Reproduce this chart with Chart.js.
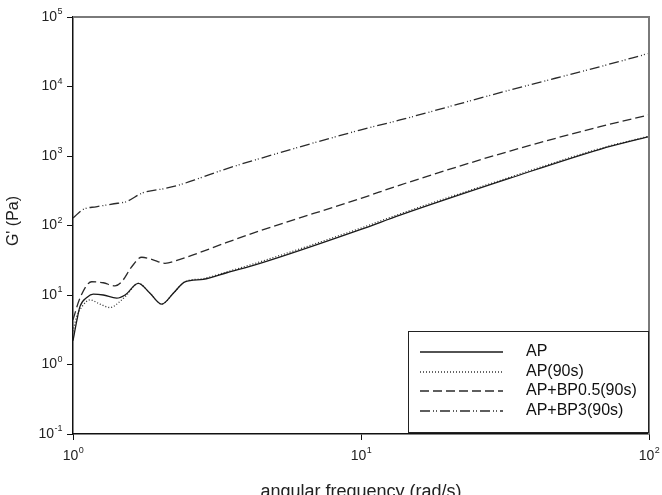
<!DOCTYPE html>
<html lang="en">
<head>
<meta charset="UTF-8">
<title>G' vs angular frequency</title>
<script src="https://cdn.jsdelivr.net/npm/chart.js"></script>
<style>
  html, body { margin: 0; padding: 0; background: #fff; }
</style>
</head>
<body>
<canvas id="chart" width="662" height="495"></canvas>
<script>
// values (x in rad/s, y in Pa)
const apX   = [1.0, 1.03, 1.057, 1.12, 1.176, 1.274, 1.418, 1.516, 1.686, 1.851, 2.032, 2.23, 2.448, 2.835, 3.418, 4.46, 10, 13.66, 32.9, 67.6, 100];
const apY   = [2.2, 4.2, 6.8, 9.3, 10.3, 10.0, 9.0, 10.0, 14.7, 10.6, 7.4, 10.6, 15.5, 16.8, 20.9, 28.5, 88, 141, 480, 1250, 1900];

const ap90X = [1.0, 1.03, 1.08, 1.146, 1.241, 1.344, 1.476, 1.536, 1.686, 1.851, 2.032, 2.23, 2.448, 2.835, 3.418, 4.46, 10, 13.66, 32.9, 67.6, 100];
const ap90Y = [3.0, 4.9, 7.0, 8.5, 7.4, 6.6, 8.5, 10.0, 14.7, 10.6, 7.4, 10.6, 15.5, 17.2, 21.5, 30, 92, 147, 495, 1280, 1930];

const bp05X = [1.0, 1.057, 1.161, 1.274, 1.399, 1.476, 1.599, 1.732, 1.876, 2.086, 2.353, 3.4, 4.46, 10, 13.66, 32.9, 67.6, 100];
const bp05Y = [4.4, 9.0, 15.5, 15.0, 13.5, 15.5, 25.5, 34.9, 32.6, 28.6, 32.6, 56.5, 84, 246, 382, 1180, 2640, 3900];

const bp3X  = [1.0, 1.086, 1.202, 1.43, 1.53, 1.746, 2.103, 2.339, 2.745, 3.31, 4.46, 9.92, 13.66, 32.9, 67.6, 100];
const bp3Y  = [128, 171, 186, 209, 220, 295, 343, 383, 478, 629, 920, 2360, 3300, 8900, 19300, 30000];

const seriesLabels = ['AP', 'AP(90s)', 'AP+BP0.5(90s)', 'AP+BP3(90s)'];
const xTickExp = [0, 1, 2];
const yTickExp = [-1, 0, 1, 2, 3, 4, 5];
const xTitle = 'angular frequency (rad/s)';
const yTitle = "G' (Pa)";

const FONT = '"Liberation Sans", Arial, sans-serif';
const toPts = (xs, ys) => xs.map((x, i) => ({ x: x, y: ys[i] }));

function lineSet(label, xs, ys, dash, color) {
  return {
    label: label,
    data: toPts(xs, ys),
    borderColor: color,
    borderWidth: 1.3,
    borderDash: dash,
    pointRadius: 0,
    fill: false,
    cubicInterpolationMode: 'monotone'
  };
}

const dashes = [[], [1, 2], [9, 4], [10, 3, 1, 2, 1, 3]];
const colors = ['#1a1a1a', '#333', '#2a2a2a', '#2a2a2a'];

// superscript "10^e" label
function drawPow(ctx, e, x, y, align) {
  ctx.save();
  const base = '10', sup = e < 0 ? '-' + Math.abs(e) : String(e);
  ctx.font = '14px ' + FONT;
  const wb = ctx.measureText(base).width;
  ctx.font = '9px ' + FONT;
  const ws = ctx.measureText(sup).width;
  const total = wb + ws;
  let left = x;
  if (align === 'right') left = x - total;
  else if (align === 'center') left = x - total / 2;
  ctx.fillStyle = '#222';
  ctx.textBaseline = 'middle';
  ctx.textAlign = 'left';
  ctx.font = '14px ' + FONT;
  ctx.fillText(base, left, y);
  ctx.font = '9px ' + FONT;
  ctx.fillText(sup, left + wb + 0.5, y - 5);
  ctx.restore();
}

const decorations = {
  id: 'decorations',
  afterDraw(chart) {
    const ctx = chart.ctx;
    const a = chart.chartArea;
    const xs = chart.scales.x, ys = chart.scales.y;

    // top and right frame
    ctx.save();
    ctx.strokeStyle = '#7a7a7a';
    ctx.lineWidth = 2;
    ctx.beginPath();
    ctx.moveTo(a.left, a.top);
    ctx.lineTo(a.right, a.top);
    ctx.lineTo(a.right, a.bottom);
    ctx.stroke();
    ctx.restore();

    // tick labels
    yTickExp.forEach(e => drawPow(ctx, e, 62, ys.getPixelForValue(Math.pow(10, e)), 'right'));
    xTickExp.forEach(e => drawPow(ctx, e, xs.getPixelForValue(Math.pow(10, e)), 456, 'center'));

    // axis titles
    ctx.save();
    ctx.fillStyle = '#222';
    ctx.textAlign = 'center';
    ctx.textBaseline = 'middle';
    ctx.font = '18px ' + FONT;
    ctx.fillText(xTitle, (a.left + a.right) / 2, 492);
    ctx.font = '16px ' + FONT;
    ctx.translate(14, 221);
    ctx.rotate(-Math.PI / 2);
    ctx.fillText(yTitle, 0, 0);
    ctx.restore();

    // legend box
    ctx.save();
    ctx.strokeStyle = '#222';
    ctx.lineWidth = 1;
    ctx.strokeRect(408.5, 331.5, 240, 101);
    const rows = [352, 372, 391, 411];
    chart.data.datasets.forEach((ds, i) => {
      ctx.strokeStyle = ds.borderColor;
      ctx.lineWidth = ds.borderWidth;
      ctx.setLineDash(ds.borderDash);
      ctx.beginPath();
      ctx.moveTo(420, rows[i]);
      ctx.lineTo(503, rows[i]);
      ctx.stroke();
      ctx.setLineDash([]);
      ctx.fillStyle = '#111';
      ctx.font = '16px ' + FONT;
      ctx.textAlign = 'left';
      ctx.textBaseline = 'middle';
      ctx.fillText(ds.label, 526, rows[i]);
    });
    ctx.restore();
  }
};

new Chart(document.getElementById('chart').getContext('2d'), {
  type: 'line',
  data: {
    datasets: [
      lineSet(seriesLabels[0], apX, apY, dashes[0], colors[0]),
      lineSet(seriesLabels[1], ap90X, ap90Y, dashes[1], colors[1]),
      lineSet(seriesLabels[2], bp05X, bp05Y, dashes[2], colors[2]),
      lineSet(seriesLabels[3], bp3X, bp3Y, dashes[3], colors[3])
    ]
  },
  options: {
    responsive: false,
    animation: false,
    events: [],
    layout: { padding: { left: 0, top: 17, right: 13, bottom: 0 } },
    plugins: { legend: { display: false }, tooltip: { enabled: false } },
    scales: {
      x: {
        type: 'logarithmic',
        min: 1, max: 100,
        afterBuildTicks: s => { s.ticks = xTickExp.map(e => ({ value: Math.pow(10, e) })); },
        afterFit: s => { s.height = 61; },
        ticks: { display: false },
        grid: { display: true, drawOnChartArea: false, drawTicks: true, tickLength: 6, color: '#111', lineWidth: 1 },
        border: { display: true, color: '#111', width: 1.5 }
      },
      y: {
        type: 'logarithmic',
        min: 0.1, max: 100000,
        afterBuildTicks: s => { s.ticks = yTickExp.map(e => ({ value: Math.pow(10, e) })); },
        afterFit: s => { s.width = 73; },
        ticks: { display: false },
        grid: { display: true, drawOnChartArea: false, drawTicks: true, tickLength: 6, color: '#111', lineWidth: 1 },
        border: { display: true, color: '#111', width: 1.5 }
      }
    }
  },
  plugins: [decorations]
});
</script>
</body>
</html>
